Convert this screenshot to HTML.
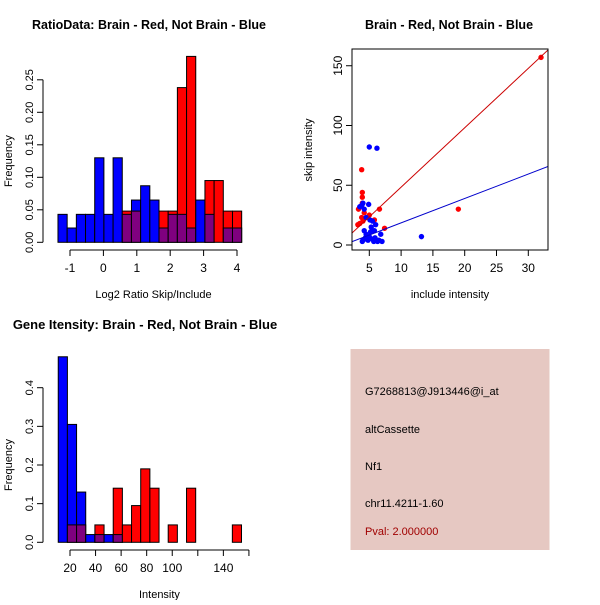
<!DOCTYPE html>
<html><head><meta charset="utf-8"><style>
body{margin:0;background:#fff;width:600px;height:600px;overflow:hidden}
svg{font-family:"Liberation Sans",Arial,sans-serif}
</style></head><body>
<svg id="svg" width="600" height="600" viewBox="0 0 600 600" xmlns="http://www.w3.org/2000/svg">
<rect x="350.5" y="349" width="199" height="201" fill="#e6c8c2"/>
<g font-size="11">
<text x="365" y="395">G7268813@J913446@i_at</text>
<text x="365" y="433">altCassette</text>
<text x="365" y="470">Nf1</text>
<text x="365" y="507">chr11.4211-1.60</text>
<text x="365" y="535" fill="#a00000">Pval: 2.000000</text>
</g>
</svg>
<script>
// Ratio histogram data
const ratioBlue=[0.043,0.022,0.043,0.043,0.13,0.043,0.13,0.043,0.065,0.087,0.065,0.022,0.043,0.043,0.022,0.065,0.043,0,0.022,0.022];
const ratioRed=[0,0,0,0,0,0,0,0.048,0.048,0,0,0.048,0.048,0.238,0.286,0,0.095,0.095,0.048,0.048];
const ratioStart=-1.36, ratioWidth=0.275;
const ratioYTicks=[0,0.05,0.10,0.15,0.20,0.25];
const ratioYLabels=["0.00","0.05","0.10","0.15","0.20","0.25"];
const ratioXTicks=[-1,0,1,2,3,4];
// Intensity histogram data
const intBlue=[0.48,0.305,0.13,0.02,0.02,0.02,0.02,0,0,0,0,0,0,0,0,0,0,0,0,0];
const intRed=[0,0.045,0.045,0,0.045,0,0.14,0.045,0.095,0.19,0.14,0,0.045,0,0.14,0,0,0,0,0.045];
const intStart=10.8, intWidth=7.17;
const intYTicks=[0,0.1,0.2,0.3,0.4];
const intYLabels=["0.0","0.1","0.2","0.3","0.4"];
const intXTicks=[20,40,60,80,100,120,140,160];
const intXLabels=["20","40","60","80","100","","140",""];
// Scatter data
const redX=[32,3.3,3.2,3.5,3.8,3.9,3.9,3.9,3.8,6.6,19,7.4,4,5,5.8,4.2];
const redY=[157,30,17,18,63,44,40,35,23,30,30,14,20,25,21,27];
const blueX=[5,6.2,13.2,4,3.8,3.5,4.9,4.2,4.5,5.1,5.5,6,5.3,4.2,4.5,5,5.5,6,6.8,7,4,4.6,5.7,6.3,4.4,5.2,5.8,6.5,3.9,4.8,5.9];
const blueY=[82,81,7,35,33,32,34,30,23,21,20,17,15,12,9,7,5,4,9,3,4,5,3,3,6,11,12,4,3,4,6];
const redFit=[-1.3,4.97], blueFit=[-1.85,2.04];
const scXTicks=[5,10,15,20,25,30], scYTicks=[0,50,100,150];

const svg=document.getElementById('svg');
const NS='http://www.w3.org/2000/svg';
function mk(tag,attrs,parent){const e=document.createElementNS(NS,tag);for(const k in attrs)e.setAttribute(k,attrs[k]);(parent||svg).appendChild(e);return e;}
function txt(s,attrs,parent){const e=mk('text',attrs,parent);e.textContent=s;return e;}

function hist(o){
  const g=mk('g',{});
  
  
  const sx=v=>o.x0+(v-o.xv0)*o.kx, sy=v=>o.base-v*o.ky;
  for(let i=0;i<o.blue.length;i++){
    const a=o.start+i*o.width,b=a+o.width,x1=sx(a),x2=sx(b);
    const bl=o.blue[i],rd=o.red[i],mx=Math.max(bl,rd),mn=Math.min(bl,rd);
    if(mx>0){const r=mk('rect',{x:x1,y:sy(mx),width:x2-x1,height:sy(0)-sy(mx),fill:bl>=rd?'#0000ff':'#ff0000',stroke:'#000','stroke-width':1},g);
      
      }
    if(mn>0){const r=mk('rect',{x:x1,y:sy(mn),width:x2-x1,height:sy(0)-sy(mn),fill:'#7f007f',stroke:'#000','stroke-width':1},g);
      
      }
  }
  const yt=o.yTicks;
  const ya=mk('g',{stroke:'#000'},g);
  
  
  mk('line',{x1:o.yAxisX,x2:o.yAxisX,y1:sy(yt[0]),y2:sy(yt[yt.length-1])},ya);
  yt.forEach((v,i)=>{mk('line',{x1:o.yAxisX-6,x2:o.yAxisX,y1:sy(v),y2:sy(v)},ya);
    const t=txt(o.yLabels[i],{x:o.yAxisX-10,y:sy(v),'font-size':11,'text-anchor':'middle',stroke:'none',transform:`rotate(-90 ${o.yAxisX-10} ${sy(v)})`},ya);
    
    });
  const xa=mk('g',{stroke:'#000'},g);
  
  
  const xt=o.xTicks;
  mk('line',{x1:sx(xt[0]),x2:sx(xt[xt.length-1]),y1:o.xAxisY,y2:o.xAxisY},xa);
  xt.forEach((v,i)=>{mk('line',{x1:sx(v),x2:sx(v),y1:o.xAxisY,y2:o.xAxisY+6},xa);
    const t=txt(o.xLabels[i],{x:sx(v),y:o.xAxisY+22,'font-size':12,'text-anchor':'middle',stroke:'none'},xa);
    
    });
  const xl=txt(o.xTitle,{x:(sx(xt[0])+sx(xt[xt.length-1]))/2,y:o.xAxisY+48,'font-size':11,'text-anchor':'middle'});
  
  
  const yc=(sy(yt[0])+sy(yt[yt.length-1]))/2;
  const yl=txt('Frequency',{x:12,y:yc,'font-size':11,'text-anchor':'middle',transform:`rotate(-90 12 ${yc})`});
  
  
  const ti=txt(o.title,{x:o.titleX,y:o.titleY,'font-size':o.titleSize,'font-weight':'bold','text-anchor':'middle'});
  
  
}

hist({name:'ratio-histogram',blue:ratioBlue,red:ratioRed,start:ratioStart,width:ratioWidth,
  x0:70,xv0:-1,kx:33.4,base:242.3,ky:650,yTicks:ratioYTicks,yLabels:ratioYLabels,yAxisX:43,
  xTicks:ratioXTicks,xLabels:ratioXTicks.map(String),xAxisY:250,xTitle:'Log2 Ratio Skip/Include',
  title:'RatioData: Brain - Red, Not Brain - Blue',titleX:149,titleY:29,titleSize:12.5});
hist({name:'intensity-histogram',blue:intBlue,red:intRed,start:intStart,width:intWidth,
  x0:70,xv0:20,kx:1.278,base:542.3,ky:386.5,yTicks:intYTicks,yLabels:intYLabels,yAxisX:43,
  xTicks:intXTicks,xLabels:intXLabels,xAxisY:550,xTitle:'Intensity',
  title:'Gene Itensity: Brain - Red, Not Brain - Blue',titleX:145,titleY:329,titleSize:13});

(function(){
  const g=mk('g',{});
  
  
  const L=352,R=548,T=49,B=250;
  const sx=v=>369.3+(v-5)*6.36, sy=v=>245-v*1.195;
  const cp=mk('clipPath',{id:'cp'},g);mk('rect',{x:L,y:T,width:R-L,height:B-T},cp);
  const pts=mk('g',{'clip-path':'url(#cp)'},g);
  redX.forEach((x,i)=>{const c=mk('circle',{cx:sx(x),cy:sy(redY[i]),r:2.7,fill:'#ff0000'},pts);
    
    });
  blueX.forEach((x,i)=>{const c=mk('circle',{cx:sx(x),cy:sy(blueY[i]),r:2.7,fill:'#0000ff'},pts);
    
    });
  const xa=2.28,xb=33.1;
  const rl=mk('line',{x1:sx(xa),y1:sy(redFit[0]+redFit[1]*xa),x2:sx(xb),y2:sy(redFit[0]+redFit[1]*xb),stroke:'#cc0000','stroke-width':1},pts);
  
  
  const bl=mk('line',{x1:sx(xa),y1:sy(blueFit[0]+blueFit[1]*xa),x2:sx(xb),y2:sy(blueFit[0]+blueFit[1]*xb),stroke:'#0000cc','stroke-width':1},pts);
  
  
  const box=mk('rect',{x:L,y:T,width:R-L,height:B-T,fill:'none',stroke:'#000'},g);
  
  
  scXTicks.forEach(v=>{mk('line',{x1:sx(v),x2:sx(v),y1:B,y2:B+6,stroke:'#000'},g);
    const t=txt(String(v),{x:sx(v),y:B+22,'font-size':12,'text-anchor':'middle'},g);
    
    });
  scYTicks.forEach(v=>{mk('line',{x1:L-6,x2:L,y1:sy(v),y2:sy(v),stroke:'#000'},g);
    const t=txt(String(v),{x:L-10,y:sy(v),'font-size':12,'text-anchor':'middle',transform:`rotate(-90 ${L-10} ${sy(v)})`},g);
    
    });
  const xt=txt('include intensity',{x:450,y:298,'font-size':11,'text-anchor':'middle'},g);
  
  
  const yt=txt('skip intensity',{x:312,y:150,'font-size':11,'text-anchor':'middle',transform:'rotate(-90 312 150)'},g);
  
  
  const ti=txt('Brain - Red, Not Brain - Blue',{x:449,y:29,'font-size':12.5,'font-weight':'bold','text-anchor':'middle'},g);
  
  
})();
</script>
</body></html>
